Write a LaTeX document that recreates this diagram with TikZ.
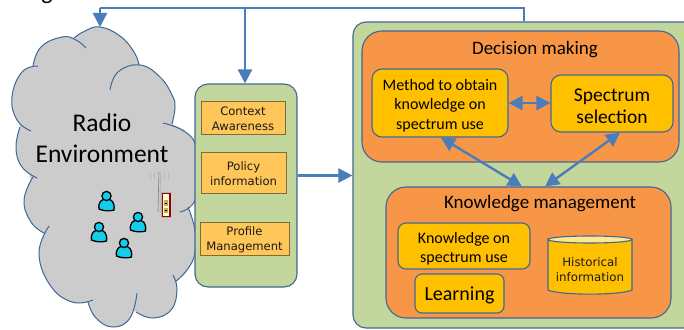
\documentclass[tikz,border=0pt]{standalone}
\usepackage{fontspec}
\setmainfont{Carlito}
\newfontfamily\boxfont{DejaVu Sans}
\usetikzlibrary{arrows.meta,calc,positioning}
\definecolor{edgeblue}{HTML}{3F6797}
\definecolor{arrowblue}{HTML}{4A7EBB}
\definecolor{cloudgray}{HTML}{CCCCCC}
\definecolor{panelgreen}{HTML}{C3D69B}
\definecolor{panelorange}{HTML}{F79646}
\definecolor{boxyellow}{HTML}{FFC000}
\definecolor{noteyellow}{HTML}{FFC65A}
\definecolor{notebrown}{HTML}{7F6A3A}
\definecolor{usercyan}{HTML}{12CDEB}
\newcommand{\nudge}[1]{\rule{0pt}{#1pt}}
\newcommand{\CloudLobes}[1]{%
 \path[#1] plot[smooth,tension=.75] coordinates {(33,66)(41,47)(62,37)(76,40)(86,48)};
 \path[#1] plot[smooth,tension=.75] coordinates {(74,38)(85,31)(100,27)(120,36)(134,52)(139,65)};
 \path[#1] plot[smooth,tension=.75] coordinates {(110,90)(118,72)(140,65)(160,77)(172,95)(175,107)(172,124)};
 \path[#1] plot[smooth,tension=.75] coordinates {(38,66)(22,72)(12,97)(17,120)(31,131)};
 \path[#1] plot[smooth,tension=.75] coordinates {(20,127)(16,148)(22,167)(37,178)};
 \path[#1] plot[smooth,tension=.75] coordinates {(33,177)(24,200)(31,222)(44,233)};
 \path[#1] plot[smooth,tension=.75] coordinates {(49,226)(39,253)(50,285)(72,302)(93,300)};
 \path[#1] plot[smooth,tension=.75] coordinates {(88,302)(96,318)(113,327)(130,318)(137,293)};
 \path[#1] plot[smooth,tension=.75] coordinates {(136,312)(153,318)(171,310)(177,290)(173,275)};
 \path[#1] plot[smooth,tension=.75] coordinates {(188,207)(195,230)(195,253)(187,270)(175,282)};
 \path[#1] plot[smooth,tension=.75] coordinates {(180,212)(190,207)(196,195)(197,165)(195,143)(182,130)(163,123)};
}
\tikzset{
 x=1pt,y=-1pt,
 panel/.style={draw=edgeblue,line width=1.1pt,fill=#1,rectangle,inner sep=0pt,align=center},
 notebox/.style={draw=notebrown,line width=.7pt,fill=noteyellow,rectangle,inner sep=0pt,align=center,font=\boxfont\fontsize{11.6}{15}\selectfont,text=black!90},
 flow/.style={draw=arrowblue,line width=2.4pt,-{Triangle[length=14pt,width=14pt]}},
 flowboth/.style={draw=arrowblue,line width=2.4pt,{Triangle[length=14pt,width=14pt]}-{Triangle[length=14pt,width=14pt]}},
 pics/usericon/.style={code={
  \path[draw=black,line width=1.3pt,fill=usercyan]
    (-7.5,10) .. controls (-8.5,3) and (-5,0) .. (0,0) .. controls (5,0) and (8.5,3) .. (7.5,11)
    .. controls (3,12.5) and (-3,12) .. (-7.5,10) -- cycle;
  \path[draw=black,line width=1.3pt,fill=usercyan] (0,-3) circle[radius=4.6];
 }},
}
\begin{document}
\begin{tikzpicture}
\clip (0,0) rectangle (684,329);
\path[fill=white] (0,0) rectangle (684,329);
% clipped letter at the top edge
\node[anchor=base,inner sep=0pt,font=\fontsize{24}{24}\selectfont] (cut) at (47,0) {g};
% cloud
\path[fill=cloudgray] (34,66) -- (78,38) -- (136,60) -- (172,124) -- (185,130) -- (195,160) -- (188,207) -- (192,250) -- (175,280) -- (137,312) -- (90,300) -- (42,230) -- (30,178) -- (20,127) -- cycle;
\CloudLobes{fill=cloudgray}
\CloudLobes{draw=edgeblue,line width=1pt}
\node[align=center,inner sep=0pt,font=\fontsize{25.5}{31}\selectfont] (cloud) at (102,138) {Radio\\Environment};
\coordinate (cloudtop) at (100,27);
% users
\path (106.5,199) pic {usericon};
\path (138,220) pic {usericon};
\path (99,230) pic {usericon};
\path (124,246) pic {usericon};
% tower
\draw[gray,line width=.6pt] (159,172) -- (158.5,190) -- (158,212);
\draw[gray!70,line width=.5pt] (161,172) -- (160,190) -- (160,212);
\draw[gray!60,line width=.5pt] (151,171) .. controls (149.5,174) and (149.5,177) .. (151,180);
\draw[gray!60,line width=.5pt] (168,171) .. controls (169.5,174) and (169.5,177) .. (168,180);
\draw[gray!60,line width=.5pt] (155,172) .. controls (154,174) and (154,177) .. (155,179);
\draw[gray!60,line width=.5pt] (164,172) .. controls (165,174) and (165,177) .. (164,179);
\path[fill=gray!60] (161,192) rectangle (171,218);
\path[fill=red!60!black] (162,193) rectangle (170.5,217);
\path[fill=yellow!15!white] (163,194) rectangle (168.5,215.5);
\path[fill=olive!60] (164,200) rectangle (168,206);
\path[fill=olive!60] (164,208) rectangle (168,213);
\path[fill=black] (165,202.5) rectangle (167,203.5);
\path[fill=black] (165,210) rectangle (167,211);
% middle panel
\node[panel=panelgreen,rounded corners=13pt,minimum width=102pt,minimum height=203pt] (mid) at (246,185.5) {};
\node[notebox,minimum width=84pt,minimum height=33pt] (context) at (243,117.5) {\nudge{11}Context\\Awareness};
\node[notebox,minimum width=85pt,minimum height=41pt] (policy) at (243.5,172.5) {\nudge{11}Policy\\information};
\node[notebox,minimum width=89pt,minimum height=33pt] (profile) at (244.5,238.5) {\nudge{12}Profile\\Management};
% main panel
\node[panel=panelgreen,rounded corners=13pt,minimum width=347pt,minimum height=306pt] (main) at (526.5,175) {};
\node[panel=panelorange,rounded corners=20pt,minimum width=317pt,minimum height=131pt] (decision) at (520.5,96.5) {};
\node[font=\fontsize{19}{20}\selectfont,inner sep=0pt] (decisiontitle) at (535,50) {Decision making};
\node[panel=boxyellow,rounded corners=10pt,minimum width=136pt,minimum height=68pt,font=\fontsize{16}{19.5}\selectfont] (method) at (440,103) {\nudge{16}Method to obtain\\knowledge on\\spectrum use};
\node[panel=boxyellow,rounded corners=10pt,minimum width=122pt,minimum height=57pt,font=\fontsize{19.5}{22}\selectfont] (spectrum) at (612,103.5) {\nudge{18}Spectrum\\selection};
\node[panel=panelorange,rounded corners=20pt,minimum width=285pt,minimum height=131pt] (km) at (528.5,252.5) {};
\node[font=\fontsize{19}{20}\selectfont,inner sep=0pt] (kmtitle) at (540,204) {Knowledge management};
\node[panel=boxyellow,rounded corners=8pt,minimum width=132pt,minimum height=46pt,font=\fontsize{16}{19}\selectfont] (knowledge) at (464,246) {\nudge{16}Knowledge on\\spectrum use};
\node[panel=boxyellow,rounded corners=7pt,minimum width=89pt,minimum height=39pt,font=\fontsize{20}{20}\selectfont] (learning) at (459.5,293.5) {\nudge{18}Learning};
% cylinder
\path[draw=edgeblue,line width=1.1pt,fill=boxyellow] (548,239.5) -- (548,290) .. controls (560,295.5) and (620,295.5) .. (632,290) -- (632,239.5) -- cycle;
\path[draw=edgeblue,line width=1.1pt,fill=noteyellow!70!yellow!60!white] (590,239.5) ellipse[x radius=42,y radius=3.5];
\node[align=center,inner sep=0pt,font=\boxfont\fontsize{11.8}{15}\selectfont,text=black!90] (historical) at (590,269.5) {Historical\\information};
% connectors
\draw[draw=arrowblue,line width=2.4pt] (524,0 |- main.north) -- (524,8) -- (100,8) coordinate (topleft);
\draw[flow] (topleft) -- (cloudtop);
\draw[flow] (245,8) -- (245,0 |- mid.north);
\draw[flow] (mid.east |- 0,175.5) -- (main.west |- 0,175.5);
\draw[flowboth] (method.east |- 0,103) -- (spectrum.west |- 0,103);
\draw[flowboth] ($(method.south west)!.507!(method.south east)$) -- ($(km.north west)!.477!(km.north east)$);
\draw[flowboth] ($(spectrum.south west)!.566!(spectrum.south east)$) -- ($(km.north west)!.558!(km.north east)$);
\end{tikzpicture}
\end{document}
